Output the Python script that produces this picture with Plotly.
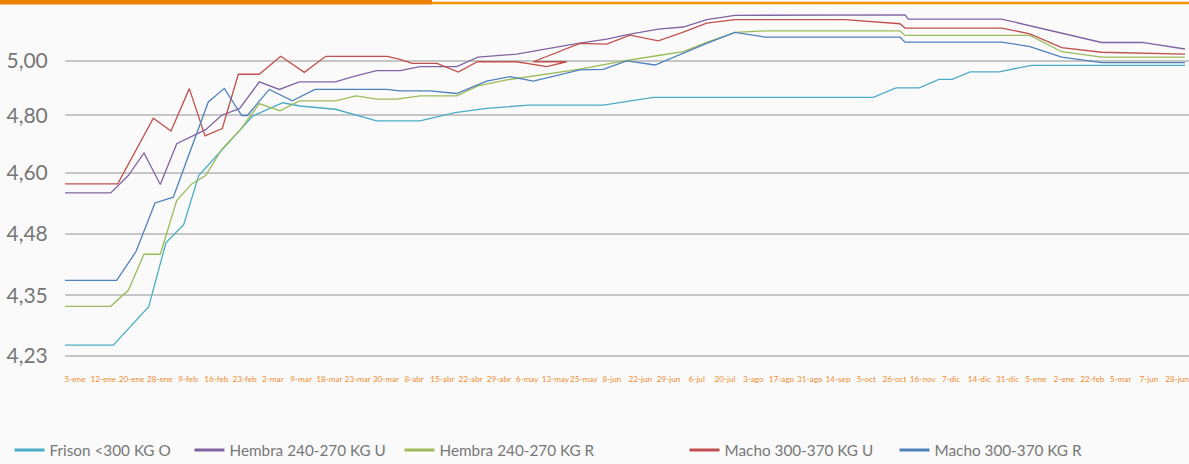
import plotly.graph_objects as go

# ---- category labels (x axis) ----
tick_labels = ["5-ene", "12-ene", "20-ene", "28-ene", "9-feb", "16-feb", "23-feb", "2-mar",
               "9-mar", "18-mar", "23-mar", "30-mar", "8-abr", "15-abr", "22-abr", "29-abr",
               "6-may", "13-may", "25-may", "8-jun", "22-jun", "29-jun", "6-jul", "20-jul",
               "3-ago", "17-ago", "31-ago", "14-sep", "5-oct", "26-oct", "16-nov", "7-dic",
               "14-dic", "31-dic", "5-ene", "2-ene", "22-feb", "5-mar", "7-jun", "28-jun"]

# y axis labels as shown on the chart and their grid positions
y_tick_text = ["4,23", "4,35", "4,48", "4,60", "4,80", "5,00"]
y_tick_pos = [3.913, 4.137, 4.362, 4.587, 4.80, 5.00]

# ---- series (x in category-label units, y values) ----
frison_x = [-0.354, 1.355, 2.608, 3.220, 3.846, 4.377, 6.288, 7.350, 7.962, 9.211, 10.676, 12.208,
            13.446, 14.568, 16.040, 18.694, 20.464, 28.248, 29.052, 29.876, 30.573, 31.044, 31.670,
            32.707, 33.853, 39.278]
frison_y = [3.953, 3.953, 4.095, 4.331, 4.397, 4.578, 4.797, 4.846, 4.834, 4.822, 4.779, 4.779,
            4.810, 4.825, 4.837, 4.837, 4.866, 4.866, 4.901, 4.901, 4.932, 4.932, 4.960,
            4.960, 4.984, 4.984]

hembra_u_x = [-0.354, 1.263, 1.886, 2.442, 3.018, 3.599, 4.625, 5.191, 5.821, 6.522, 7.229, 7.937,
              9.211, 9.968, 10.676, 11.500, 12.208, 13.507, 14.260, 15.630, 17.799, 18.814, 19.639,
              20.641, 21.525, 22.353, 23.355, 29.370, 29.487, 32.792, 36.330, 37.757, 39.278]
hembra_u_y = [4.514, 4.514, 4.578, 4.661, 4.545, 4.695, 4.747, 4.800, 4.824, 4.923, 4.895, 4.923,
              4.923, 4.946, 4.964, 4.964, 4.979, 4.979, 5.014, 5.025, 5.065, 5.080, 5.099,
              5.117, 5.125, 5.152, 5.168, 5.170, 5.154, 5.154, 5.068, 5.068, 5.044]

hembra_r_x = [-0.354, 1.263, 1.886, 2.442, 3.018, 3.599, 4.129, 4.625, 5.191, 5.839, 6.522, 7.254,
              7.937, 9.211, 9.942, 10.690, 11.394, 12.208, 13.507, 14.260, 15.276, 16.217, 17.870,
              18.814, 19.639, 20.641, 21.525, 22.353, 23.355, 24.476, 29.193, 29.370, 33.793,
              34.915, 36.330, 39.278]
hembra_r_y = [4.096, 4.096, 4.155, 4.288, 4.288, 4.486, 4.547, 4.578, 4.674, 4.745, 4.843, 4.816,
              4.853, 4.853, 4.871, 4.859, 4.859, 4.871, 4.871, 4.908, 4.930, 4.945, 4.970,
              4.988, 5.004, 5.020, 5.034, 5.068, 5.105, 5.111, 5.111, 5.094, 5.094,
              5.034, 5.014, 5.014]

macho_u_x = [-0.354, 1.511, 2.771, 3.397, 4.045, 4.600, 5.212, 5.779, 6.522, 7.279, 8.114, 8.871,
             11.051, 11.500, 11.935, 12.810, 13.563, 14.236, 15.630, 16.691, 17.399, 16.217,
             17.870, 18.814, 19.639, 20.641, 21.525, 22.353, 23.355, 27.247, 29.193, 29.370,
             32.792, 33.793, 34.915, 36.330, 39.278]
macho_u_y = [4.547, 4.547, 4.789, 4.742, 4.898, 4.724, 4.751, 4.951, 4.951, 5.017, 4.958, 5.017,
             5.017, 5.006, 4.991, 4.991, 4.959, 4.997, 4.997, 4.979, 4.997, 4.997,
             5.065, 5.062, 5.095, 5.074, 5.106, 5.139, 5.152, 5.152, 5.137, 5.121,
             5.121, 5.100, 5.049, 5.032, 5.025]

macho_r_x = [-0.354, 1.476, 2.159, 2.831, 3.478, 4.717, 5.283, 5.899, 6.097, 6.875, 7.689, 8.493,
             11.030, 11.500, 12.562, 13.507, 14.568, 15.393, 16.217, 17.870, 18.694, 19.522,
             20.524, 21.525, 22.353, 23.355, 24.416, 29.193, 29.370, 32.792, 33.793, 34.915,
             36.330, 39.278]
macho_r_y = [4.192, 4.192, 4.298, 4.477, 4.498, 4.849, 4.899, 4.799, 4.799, 4.895, 4.853, 4.895,
             4.895, 4.890, 4.890, 4.880, 4.926, 4.942, 4.926, 4.967, 4.969, 5.000,
             4.985, 5.028, 5.065, 5.105, 5.088, 5.088, 5.069, 5.069, 5.053, 5.014,
             4.994, 4.994]

series = [
    ("Frison <300 KG O", frison_x, frison_y, "#4BACC6"),
    ("Hembra 240-270 KG U", hembra_u_x, hembra_u_y, "#8064A2"),
    ("Hembra 240-270 KG R", hembra_r_x, hembra_r_y, "#9BBB59"),
    ("Macho 300-370 KG U", macho_u_x, macho_u_y, "#C0504D"),
    ("Macho 300-370 KG R", macho_r_x, macho_r_y, "#4F81BD"),
]

W, H = 1189, 464
ML, MR, MT, MB = 65, 0, 8, 102
pw = W - ML - MR
ph = H - MT - MB

# legend text start positions (px) for each entry
legend_text_px = [52, 232, 442, 727, 937]

fig = go.Figure()
legend_layouts = {}
for i, (name, xs, ys, col) in enumerate(series):
    lname = "legend" if i == 0 else f"legend{i + 1}"
    # the data line itself
    fig.add_trace(go.Scatter(x=xs, y=ys, mode="lines", name=name, legendgroup=name,
                             showlegend=False, line=dict(color=col, width=1.3)))
    # legend key (thicker swatch, as in the original)
    fig.add_trace(go.Scatter(x=[None], y=[None], mode="lines", name=name, legendgroup=name,
                             legend=lname, showlegend=True, line=dict(color=col, width=3)))
    legend_layouts[lname] = dict(
        orientation="h", x=(legend_text_px[i] - 42.5 - ML) / pw, xanchor="left",
        y=-(450 - (H - MB)) / ph, yanchor="middle",
        font=dict(size=15.3, color="#777777", family="Lato, Roboto, sans-serif"),
        bgcolor="rgba(0,0,0,0)", itemwidth=30)

fig.update_layout(
    width=W, height=H,
    margin=dict(l=ML, r=MR, t=MT, b=MB, autoexpand=False),
    paper_bgcolor="#FAFAFA", plot_bgcolor="#FAFAFA",
    font=dict(family="Lato, Roboto, sans-serif", color="#7A7A7A"),
    showlegend=True,
    xaxis=dict(range=[-0.354, 39.42], tickmode="array", automargin=False,
               tickvals=list(range(len(tick_labels))), ticktext=tick_labels,
               tickfont=dict(size=8.2, color="#F08C30", family="Lato, sans-serif"),
               ticks="outside", ticklen=9, tickcolor="rgba(0,0,0,0)",
               ticklabeloverflow="allow",
               showgrid=False, zeroline=False, showline=False, tickangle=0),
    yaxis=dict(range=[3.891, 5.195], tickmode="array", tickvals=y_tick_pos, ticktext=y_tick_text,
               automargin=False,
               tickfont=dict(size=21, color="#767676"),
               showgrid=True, gridcolor="#C6C6C6", gridwidth=1.5,
               zeroline=False, showline=False,
               ticks="outside", ticklen=12, tickcolor="rgba(0,0,0,0)"),
    **legend_layouts,
)

# top orange accent bars
split = (432 - ML) / pw
fig.add_shape(type="rect", xref="paper", yref="paper",
              x0=-ML / pw, x1=split, y0=1 + (MT - 4.5) / ph, y1=1 + MT / ph,
              fillcolor="#EE8000", line=dict(width=0), layer="above")
fig.add_shape(type="rect", xref="paper", yref="paper",
              x0=split, x1=1.0, y0=1 + (MT - 4.2) / ph, y1=1 + (MT - 1.7) / ph,
              fillcolor="#F39200", line=dict(width=0), layer="above")

fig.write_html("out.html", config={"displayModeBar": False},
               post_script="document.body.style.margin='0';document.body.style.background='#FAFAFA';")
